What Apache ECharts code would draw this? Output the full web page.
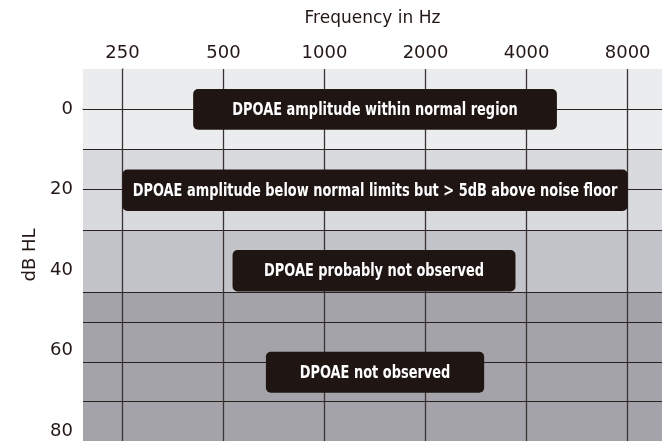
<!DOCTYPE html>
<html>
<head>
<meta charset="utf-8">
<script src="https://cdn.jsdelivr.net/npm/echarts@6/dist/echarts.min.js"></script>
<style>html,body{margin:0;padding:0;background:#fff}#c{width:662px;height:441px}</style>
</head>
<body>
<div id="c"></div>
<script>
// Frequency axis (octave index -> label)
const freqPos = [0, 1, 2, 3, 4, 5];
const freqLabels = ['250', '500', '1000', '2000', '4000', '8000'];
// dB HL tick labels
const dbTicks = [0, 20, 40, 60, 80];
// Horizontal grid lines (dB HL)
const hLines = [0, 10, 20, 30, 45.5, 53, 63, 72.5];
// Background bands (dB HL)
const bandStart = [-10, 10, 30, 45.5];
const bandEnd = [10, 30, 45.5, 82.5];
const bandColors = ['#ebecee', '#d9dade', '#c3c4c9', '#a5a3aa'];
// Region labels (x in octave index, y in dB HL)
const boxLabels = [
  'DPOAE amplitude within normal region',
  'DPOAE amplitude below normal limits but > 5dB above noise floor',
  'DPOAE probably not observed',
  'DPOAE not observed'
];
const boxX0 = [0.70, 0.00, 1.09, 1.42];
const boxX1 = [4.30, 5.00, 3.89, 3.58];
const boxY0 = [-5, 15, 35, 60.3];
const boxY1 = [5.1, 25.3, 45.3, 70.5];

const chart = echarts.init(document.getElementById('c'), null, {renderer: 'canvas'});
const lineStyle = {color: '#2a201e', width: 1.2, type: 'solid'};
const option = {
  animation: false,
  grid: {left: 83, top: 69, right: 0, bottom: 0, containLabel: false, outerBoundsMode: 'none'},
  xAxis: {
    type: 'value', position: 'top', min: -0.39, max: 5.34,
    name: 'Frequency in Hz', nameLocation: 'middle', nameGap: 42,
    nameTextStyle: {fontFamily: 'DejaVu Sans', fontSize: 17, color: '#231815'},
    axisLine: {show: true, lineStyle: {color: '#5a5657', width: 1.5}},
    axisTick: {show: false},
    splitLine: {show: false},
    axisLabel: {
      customValues: freqPos, margin: 7,
      fontFamily: 'DejaVu Sans', fontSize: 18, color: '#231815',
      formatter: v => freqLabels[Math.round(v)]
    }
  },
  yAxis: {
    type: 'value', inverse: true, min: -10, max: 82.5,
    name: 'dB HL', nameLocation: 'middle', nameGap: 44, nameRotate: 90,
    nameTextStyle: {fontFamily: 'DejaVu Sans', fontSize: 18, color: '#231815'},
    axisLine: {show: true, lineStyle: {color: '#5a5657', width: 1.5}},
    axisTick: {show: false},
    splitLine: {show: false},
    axisLabel: {
      customValues: dbTicks, margin: 10,
      fontFamily: 'DejaVu Sans', fontSize: 18, color: '#231815'
    }
  },
  series: [
    {
      type: 'custom', z: 1, silent: true, clip: true,
      data: bandStart.map((s, i) => [s, bandEnd[i], i]),
      renderItem: (params, api) => {
        const cs = params.coordSys;
        const a = api.coord([0, api.value(0)]);
        const b = api.coord([0, api.value(1)]);
        return {type: 'rect', shape: {x: cs.x, y: a[1], width: cs.width, height: b[1] - a[1]},
          style: {fill: bandColors[api.value(2)]}};
      },
      markLine: {
        silent: true, symbol: ['none', 'none'], label: {show: false},
        lineStyle: lineStyle,
        data: hLines.map(v => ({yAxis: v})).concat(freqPos.map(v => ({xAxis: v, lineStyle: {color: '#3a3334', width: 1.3}})))
      }
    },
    {
      type: 'custom', z: 5, silent: true, clip: false,
      data: boxLabels.map((t, i) => [boxX0[i], boxX1[i], boxY0[i], boxY1[i], i]),
      renderItem: (params, api) => {
        const p0 = api.coord([api.value(0), api.value(2)]);
        const p1 = api.coord([api.value(1), api.value(3)]);
        return {
          type: 'group',
          children: [
            {type: 'rect',
             shape: {x: p0[0], y: p0[1], width: p1[0] - p0[0], height: p1[1] - p0[1], r: 5},
             style: {fill: '#1f1512'}},
            {type: 'text', x: (p0[0] + p1[0]) / 2, y: (p0[1] + p1[1]) / 2 + 1, scaleX: 0.8,
             style: {text: boxLabels[api.value(4)], fill: '#ffffff', align: 'center', verticalAlign: 'middle',
               font: 'bold 18px "DejaVu Sans Condensed", sans-serif'}}
          ]
        };
      }
    }
  ]
};
chart.setOption(option);
</script>
</body>
</html>
